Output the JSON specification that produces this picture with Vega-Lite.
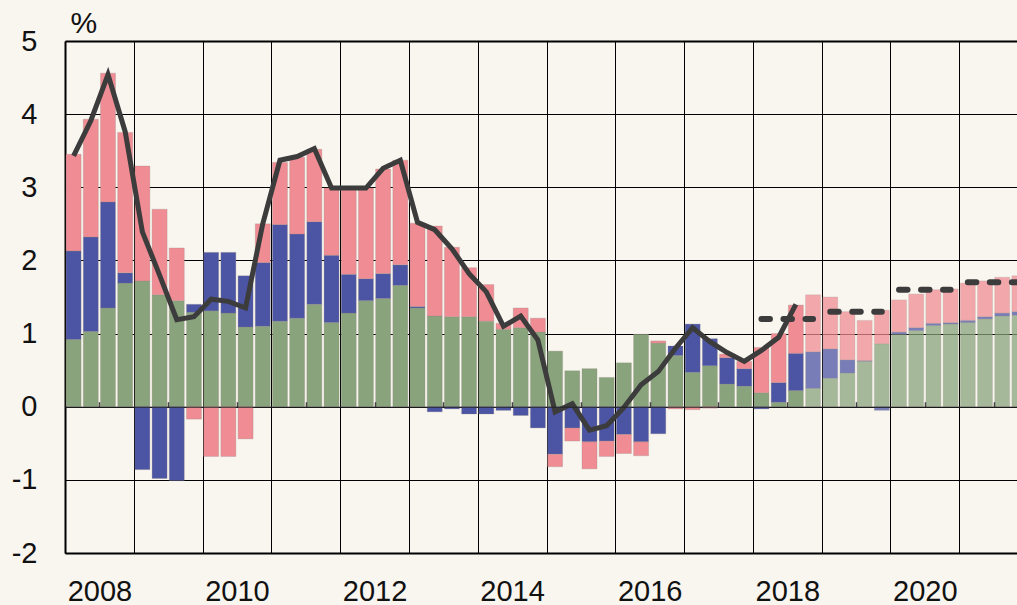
{
  "$schema": "https://vega.github.io/schema/vega-lite/v6.json",
  "width": 952,
  "height": 512,
  "autosize": {"type": "none"},
  "padding": {"left": 65, "top": 41, "right": 0, "bottom": 52},
  "background": "#F9F5EF",
  "config": {"view": {"stroke": null}, "font": "Liberation Sans"},
  "datasets": {
    "bars": [
      {"t": 2008.125, "c1": 0.92, "c2": 1.21, "c3": 1.32, "kind": "a"},
      {"t": 2008.375, "c1": 1.03, "c2": 1.29, "c3": 1.61, "kind": "a"},
      {"t": 2008.625, "c1": 1.35, "c2": 1.45, "c3": 1.76, "kind": "a"},
      {"t": 2008.875, "c1": 1.69, "c2": 0.14, "c3": 1.92, "kind": "a"},
      {"t": 2009.125, "c1": 1.72, "c2": -0.86, "c3": 1.57, "kind": "a"},
      {"t": 2009.375, "c1": 1.53, "c2": -0.98, "c3": 1.17, "kind": "a"},
      {"t": 2009.625, "c1": 1.45, "c2": -1.01, "c3": 0.72, "kind": "a"},
      {"t": 2009.875, "c1": 1.29, "c2": 0.11, "c3": -0.17, "kind": "a"},
      {"t": 2010.125, "c1": 1.31, "c2": 0.80, "c3": -0.68, "kind": "a"},
      {"t": 2010.375, "c1": 1.28, "c2": 0.83, "c3": -0.68, "kind": "a"},
      {"t": 2010.625, "c1": 1.09, "c2": 0.70, "c3": -0.44, "kind": "a"},
      {"t": 2010.875, "c1": 1.10, "c2": 0.87, "c3": 0.53, "kind": "a"},
      {"t": 2011.125, "c1": 1.17, "c2": 1.32, "c3": 0.85, "kind": "a"},
      {"t": 2011.375, "c1": 1.21, "c2": 1.15, "c3": 1.05, "kind": "a"},
      {"t": 2011.625, "c1": 1.40, "c2": 1.13, "c3": 0.99, "kind": "a"},
      {"t": 2011.875, "c1": 1.15, "c2": 0.92, "c3": 0.92, "kind": "a"},
      {"t": 2012.125, "c1": 1.28, "c2": 0.53, "c3": 1.18, "kind": "a"},
      {"t": 2012.375, "c1": 1.45, "c2": 0.30, "c3": 1.24, "kind": "a"},
      {"t": 2012.625, "c1": 1.48, "c2": 0.34, "c3": 1.43, "kind": "a"},
      {"t": 2012.875, "c1": 1.66, "c2": 0.28, "c3": 1.43, "kind": "a"},
      {"t": 2013.125, "c1": 1.35, "c2": 0.02, "c3": 1.14, "kind": "a"},
      {"t": 2013.375, "c1": 1.24, "c2": -0.07, "c3": 1.23, "kind": "a"},
      {"t": 2013.625, "c1": 1.23, "c2": -0.03, "c3": 0.95, "kind": "a"},
      {"t": 2013.875, "c1": 1.23, "c2": -0.10, "c3": 0.67, "kind": "a"},
      {"t": 2014.125, "c1": 1.17, "c2": -0.10, "c3": 0.50, "kind": "a"},
      {"t": 2014.375, "c1": 1.06, "c2": -0.05, "c3": 0.08, "kind": "a"},
      {"t": 2014.625, "c1": 1.08, "c2": -0.12, "c3": 0.27, "kind": "a"},
      {"t": 2014.875, "c1": 1.02, "c2": -0.29, "c3": 0.19, "kind": "a"},
      {"t": 2015.125, "c1": 0.76, "c2": -0.65, "c3": -0.17, "kind": "a"},
      {"t": 2015.375, "c1": 0.49, "c2": -0.29, "c3": -0.18, "kind": "a"},
      {"t": 2015.625, "c1": 0.52, "c2": -0.48, "c3": -0.37, "kind": "a"},
      {"t": 2015.875, "c1": 0.40, "c2": -0.47, "c3": -0.21, "kind": "a"},
      {"t": 2016.125, "c1": 0.60, "c2": -0.38, "c3": -0.26, "kind": "a"},
      {"t": 2016.375, "c1": 0.99, "c2": -0.48, "c3": -0.19, "kind": "a"},
      {"t": 2016.625, "c1": 0.87, "c2": -0.37, "c3": 0.03, "kind": "a"},
      {"t": 2016.875, "c1": 0.70, "c2": 0.13, "c3": -0.03, "kind": "a"},
      {"t": 2017.125, "c1": 0.47, "c2": 0.66, "c3": -0.04, "kind": "a"},
      {"t": 2017.375, "c1": 0.56, "c2": 0.37, "c3": -0.02, "kind": "a"},
      {"t": 2017.625, "c1": 0.31, "c2": 0.36, "c3": 0.05, "kind": "a"},
      {"t": 2017.875, "c1": 0.28, "c2": 0.24, "c3": 0.10, "kind": "a"},
      {"t": 2018.125, "c1": 0.19, "c2": -0.03, "c3": 0.62, "kind": "a"},
      {"t": 2018.375, "c1": 0.06, "c2": 0.27, "c3": 0.67, "kind": "a"},
      {"t": 2018.625, "c1": 0.22, "c2": 0.51, "c3": 0.66, "kind": "a"},
      {"t": 2018.875, "c1": 0.25, "c2": 0.50, "c3": 0.78, "kind": "p"},
      {"t": 2019.125, "c1": 0.39, "c2": 0.40, "c3": 0.71, "kind": "p"},
      {"t": 2019.375, "c1": 0.46, "c2": 0.18, "c3": 0.66, "kind": "p"},
      {"t": 2019.625, "c1": 0.62, "c2": 0.01, "c3": 0.55, "kind": "p"},
      {"t": 2019.875, "c1": 0.86, "c2": -0.05, "c3": 0.46, "kind": "p"},
      {"t": 2020.125, "c1": 0.99, "c2": 0.03, "c3": 0.44, "kind": "p"},
      {"t": 2020.375, "c1": 1.04, "c2": 0.04, "c3": 0.46, "kind": "p"},
      {"t": 2020.625, "c1": 1.11, "c2": 0.03, "c3": 0.46, "kind": "p"},
      {"t": 2020.875, "c1": 1.13, "c2": 0.02, "c3": 0.46, "kind": "p"},
      {"t": 2021.125, "c1": 1.15, "c2": 0.03, "c3": 0.51, "kind": "p"},
      {"t": 2021.375, "c1": 1.20, "c2": 0.03, "c3": 0.49, "kind": "p"},
      {"t": 2021.625, "c1": 1.24, "c2": 0.04, "c3": 0.49, "kind": "p"},
      {"t": 2021.875, "c1": 1.25, "c2": 0.05, "c3": 0.49, "kind": "p"}
    ],
    "line": [
      {"t": 2008.125, "v": 3.43}, {"t": 2008.375, "v": 3.91}, {"t": 2008.625, "v": 4.54}, {"t": 2008.875, "v": 3.76},
      {"t": 2009.125, "v": 2.39}, {"t": 2009.375, "v": 1.80}, {"t": 2009.625, "v": 1.19}, {"t": 2009.875, "v": 1.23},
      {"t": 2010.125, "v": 1.47}, {"t": 2010.375, "v": 1.44}, {"t": 2010.625, "v": 1.35}, {"t": 2010.875, "v": 2.50},
      {"t": 2011.125, "v": 3.37}, {"t": 2011.375, "v": 3.42}, {"t": 2011.625, "v": 3.53}, {"t": 2011.875, "v": 2.99},
      {"t": 2012.125, "v": 2.99}, {"t": 2012.375, "v": 2.99}, {"t": 2012.625, "v": 3.26}, {"t": 2012.875, "v": 3.37},
      {"t": 2013.125, "v": 2.52}, {"t": 2013.375, "v": 2.42}, {"t": 2013.625, "v": 2.16}, {"t": 2013.875, "v": 1.82},
      {"t": 2014.125, "v": 1.57}, {"t": 2014.375, "v": 1.10}, {"t": 2014.625, "v": 1.24}, {"t": 2014.875, "v": 0.91},
      {"t": 2015.125, "v": -0.07}, {"t": 2015.375, "v": 0.04}, {"t": 2015.625, "v": -0.32}, {"t": 2015.875, "v": -0.26},
      {"t": 2016.125, "v": -0.01}, {"t": 2016.375, "v": 0.30}, {"t": 2016.625, "v": 0.48}, {"t": 2016.875, "v": 0.80},
      {"t": 2017.125, "v": 1.08}, {"t": 2017.375, "v": 0.89}, {"t": 2017.625, "v": 0.74}, {"t": 2017.875, "v": 0.62},
      {"t": 2018.125, "v": 0.77}, {"t": 2018.375, "v": 0.95}, {"t": 2018.625, "v": 1.40}
    ],
    "proj": [
      {"yr": 2018, "t": 2018.125, "v": 1.2}, {"yr": 2018, "t": 2018.875, "v": 1.2},
      {"yr": 2019, "t": 2019.125, "v": 1.3}, {"yr": 2019, "t": 2019.875, "v": 1.3},
      {"yr": 2020, "t": 2020.125, "v": 1.6}, {"yr": 2020, "t": 2020.875, "v": 1.6},
      {"yr": 2021, "t": 2021.125, "v": 1.7}, {"yr": 2021, "t": 2021.875, "v": 1.7}
    ]
  },
  "resolve": {"scale": {"x": "shared", "y": "shared"}, "axis": {"x": "independent"}},
  "layer": [
    {
      "data": {"name": "bars"},
      "transform": [{"fold": ["c1", "c2", "c3"], "as": ["part", "val"]}],
      "mark": {"type": "bar", "size": 15, "stroke": "#8f8880", "strokeWidth": 0.6, "strokeOpacity": 0.45, "clip": true},
      "encoding": {
        "x": {
          "field": "t", "type": "quantitative",
          "scale": {"domain": [2008, 2021.84], "nice": false, "zero": false, "padding": 0},
          "axis": {
            "values": [2008, 2009, 2010, 2011, 2012, 2013, 2014, 2015, 2016, 2017, 2018, 2019, 2020, 2021],
            "grid": true, "gridColor": "#000000", "gridWidth": 1,
            "ticks": false, "tickSize": 0,
            "domainColor": "#000000", "domainWidth": 2,
            "labelExpr": "datum.value % 2 == 0 ? '' + datum.value : ''",
            "labelOffset": 34.4, "labelFontSize": 29, "labelColor": "#111111",
            "labelBaseline": "alphabetic", "labelPadding": 47,
            "labelFlush": false, "labelOverlap": false, "labelBound": false,
            "title": null
          }
        },
        "y": {
          "field": "val", "type": "quantitative", "stack": "zero",
          "scale": {"domain": [-2, 5], "nice": false, "padding": 0},
          "axis": {
            "values": [-2, -1, 0, 1, 2, 3, 4, 5],
            "labelExpr": "'' + datum.value",
            "grid": true, "gridColor": "#000000",
            "gridWidth": {"condition": {"test": "datum.value == 5", "value": 2}, "value": 1},
            "ticks": false, "tickSize": 0,
            "domainColor": "#000000", "domainWidth": 2,
            "labelFontSize": 29, "labelPadding": 28, "labelColor": "#111111",
            "title": "%", "titleAngle": 0, "titleAlign": "left", "titleBaseline": "alphabetic",
            "titleX": 5, "titleY": -9, "titleFontSize": 30, "titleFontWeight": "normal", "titleColor": "#111111"
          }
        },
        "color": {
          "field": "part", "type": "nominal",
          "scale": {"domain": ["c1", "c2", "c3"], "range": ["#89A47C", "#4C54A4", "#F08C94"]},
          "legend": null
        },
        "order": {"field": "part", "sort": "ascending"},
        "opacity": {
          "field": "kind", "type": "nominal",
          "scale": {"domain": ["a", "p"], "range": [1, 0.74]},
          "legend": null
        }
      }
    },
    {
      "data": {"name": "line"},
      "mark": {"type": "line", "color": "#3c3c3c", "strokeWidth": 5, "clip": true},
      "encoding": {
        "x": {
          "field": "t", "type": "quantitative",
          "axis": {
            "orient": "top", "offset": -365.71,
            "values": [2008.5, 2009.5, 2010.5, 2011.5, 2012.5, 2013.5, 2014.5, 2015.5, 2016.5, 2017.5, 2018.5, 2019.5, 2020.5, 2021.5],
            "labels": false, "grid": false,
            "ticks": true, "tickSize": 5, "tickColor": "#444444", "tickWidth": 1.5,
            "domain": true, "domainColor": "#222222", "domainWidth": 1,
            "title": null, "zindex": 1
          }
        },
        "y": {"field": "v", "type": "quantitative"}
      }
    },
    {
      "data": {"name": "proj"},
      "mark": {"type": "line", "color": "#3c3c3c", "strokeWidth": 6, "strokeDash": [8.5, 13.5], "strokeCap": "round", "clip": true},
      "encoding": {
        "x": {"field": "t", "type": "quantitative", "axis": null},
        "y": {"field": "v", "type": "quantitative"},
        "detail": {"field": "yr", "type": "nominal"}
      }
    }
  ]
}
